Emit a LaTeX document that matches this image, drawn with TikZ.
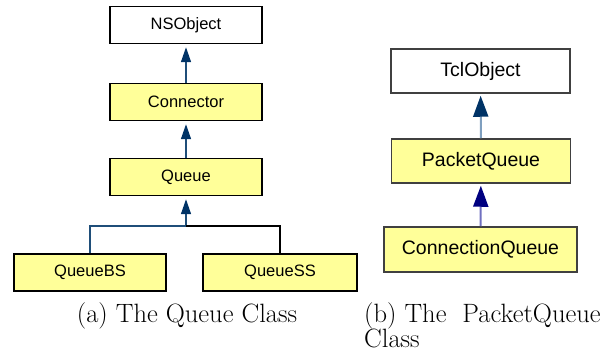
\documentclass[tikz,border=0pt]{standalone}
\usepackage{fontspec}
\newfontfamily\boxfont{Liberation Sans}
\usetikzlibrary{arrows.meta}
\definecolor{clsyellow}{HTML}{FFFF99}
\definecolor{linkblue}{HTML}{1F4E79}
\definecolor{tipblue}{HTML}{003366}
\definecolor{lineblue}{HTML}{7F9FBF}
\definecolor{lineviolet}{HTML}{7070C0}
\definecolor{tipnavy}{HTML}{000080}

\begin{document}
\begin{tikzpicture}[x=1pt,y=-1pt,
                cls/.style={draw,line width=1.5pt,minimum width=152pt,minimum height=37pt,inner sep=0pt,font=\boxfont\fontsize{16.5}{18}\selectfont},
                clsbig/.style={draw=black!75,line width=1.5pt,minimum width=179pt,minimum height=44pt,inner sep=0pt,font=\boxfont\fontsize{19.5}{22}\selectfont},
                inherit/.style={-{Triangle[length=15pt,width=10pt,color=tipblue,fill=tipblue]},line width=1.5pt,draw=linkblue,shorten >=3pt},
                inheritbig/.style={line width=2pt,shorten >=2pt},
                caption/.style={font=\fontsize{26.5}{30}\selectfont,inner sep=0pt},
            ]
            \useasboundingbox (0,0) rectangle (613,352);

            % (a) the Queue class
            \node[cls] (nsobject) at (186,25) {NSObject};
            \node[cls,fill=clsyellow] (connector) at (186,102) {Connector};
            \node[cls,fill=clsyellow] (queue) at (186,177) {Queue};
            \node[cls,fill=clsyellow] (queuebs) at (90,272.5) {QueueBS};
            \node[cls,fill=clsyellow,minimum width=154pt] (queuess) at (280,272.5) {QueueSS};
            \coordinate (fork) at (186,226);

            \draw[inherit] (connector) -- (nsobject);
            \draw[inherit] (queue) -- (connector);
            \draw[inherit] (fork) -- (queue);
            \draw[line width=1.5pt,linkblue] (queuebs.north) |- (fork);
            \draw[line width=1.5pt] (queuess.north) |- (fork);

            \node[caption] (capa) at (187,316) {(a) The Queue Class};

            % (b) the PacketQueue class
            \node[clsbig] (tclobject) at (480.5,71) {TclObject};
            \node[clsbig,fill=clsyellow] (packetqueue) at (481,161) {PacketQueue};
            \node[clsbig,fill=clsyellow,minimum width=193pt,minimum height=45pt] (connqueue) at (480.5,249.5) {ConnectionQueue};

            \draw[inheritbig,-{Triangle[length=21pt,width=15pt,color=tipblue,fill=tipblue]},draw=lineblue] (packetqueue) -- (tclobject);
            \draw[inheritbig,-{Triangle[length=21pt,width=15pt,color=tipnavy,fill=tipnavy]},draw=lineviolet] (connqueue) -- (packetqueue);

            \node[caption,anchor=west] (capb) at (364,316) {(b) The\hspace{0.6em}PacketQueue};
            \node[caption,anchor=west] (capb2) at (364,338) {Class};
        \end{tikzpicture}
\end{document}
